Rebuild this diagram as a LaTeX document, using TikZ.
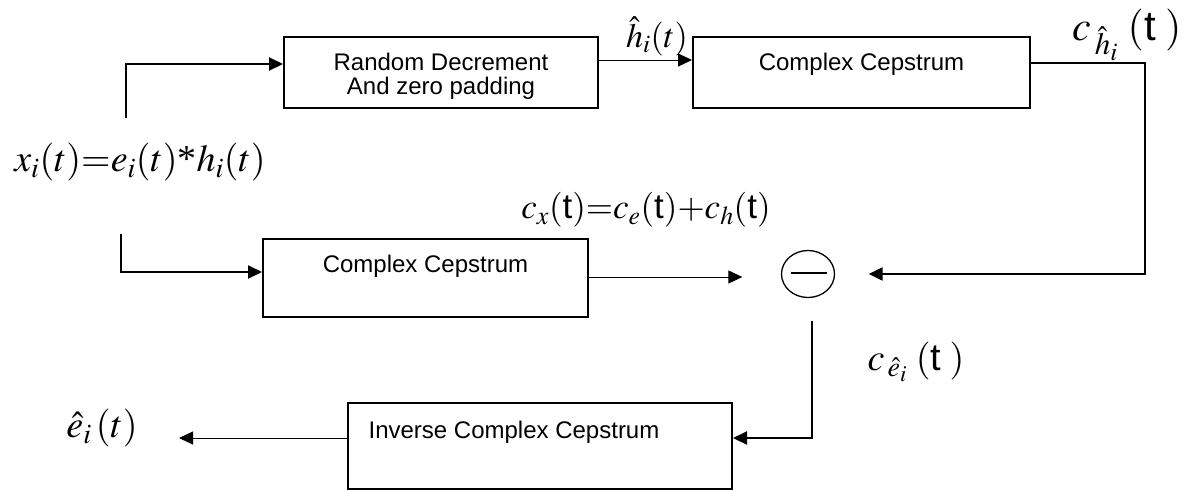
\documentclass[tikz,border=0pt]{standalone}
\usepackage{mathptmx}
\usepackage[no-math]{fontspec}
\setmainfont{Liberation Sans}
\newfontfamily\serifface{Liberation Serif}
\usetikzlibrary{arrows.meta,calc,shapes.geometric}
\begin{document}
\begin{tikzpicture}[x=1pt,y=-1pt]
\tikzset{
  blk/.style={draw, line width=2pt, inner sep=0pt},
  lbl/.style={font=\fontsize{24}{26}\selectfont, inner sep=0pt},
  eq/.style={inner sep=0pt},
  tip/.style={-{Triangle[length=14pt,width=13pt]}},
  heavy/.style={line width=2.2pt, tip},
  light/.style={line width=1pt, tip},
}
\useasboundingbox (0,0) rectangle (1190,491);

% processing blocks
\node[blk, minimum width=314pt, minimum height=71pt] (rd) at (441,72.5) {};
\node[lbl] at (441,62) {Random Decrement};
\node[lbl] at (441,88) {And zero padding};

\node[blk, minimum width=337pt, minimum height=71pt] (cc1) at (861.5,72.5) {};
\node[lbl] at (861.5,64) {Complex Cepstrum};

\node[blk, minimum width=325pt, minimum height=78pt] (cc2) at (425.5,278) {};
\node[lbl] at (425.5,266) {Complex Cepstrum};

\node[blk, minimum width=384pt, minimum height=86pt] (icc) at (540,446) {};
\node[lbl] at (514,432) {Inverse Complex Cepstrum};

% subtractor
\node[draw, ellipse, line width=1.3pt, minimum width=53pt, minimum height=47pt, inner sep=0pt] (sub) at (808,274) {};
\draw[line width=1.3pt] ($(sub.center)+(-17,-1)$) -- ($(sub.center)+(19,-1)$);

% signal labels
\node[eq, font=\fontsize{38}{42}\selectfont] (xeq) at (140,162) {$x_i(t){=}e_i(t)\mbox{\serifface *}h_i(t)$};
\node[eq, font=\fontsize{35}{39}\selectfont] (cxeq) at (646,210) {$c_x(\mbox{t}){=}c_e(\mbox{t}){+}c_h(\mbox{t})$};
\node[eq, font=\fontsize{34}{38}\selectfont] (hlab) at (657,36) {$\hat{h}_i(t)$};
\node[eq, font=\fontsize{42}{46}\selectfont] (chlab) at (1127,35) {$c_{\,\hat{h}_i}\;(\mbox{t}\;)$};
\node[eq, font=\fontsize{38}{42}\selectfont] (celab) at (916,362) {$c_{\,\hat{e}_i}\;(\mbox{t}\;)$};
\node[eq, font=\fontsize{38}{42}\selectfont] (elab) at (102,428) {$\hat{e}_i\,(t)$};

% connectors
\coordinate (in1) at (126,118);
\coordinate (in2) at (121,234);
\coordinate (rc) at (1145,63);
\coordinate (eend) at (179,438);

\draw[heavy] (in1) |- ($(rd.west)+(0,-8.5)$);
\draw[heavy] (in2) |- ($(cc2.west)+(0,-6)$);
\draw[light] ($(rd.east)+(0,-12.5)$) -- ($(cc1.west)+(0,-12.5)$);
\draw[heavy, shorten >=33.5pt] ($(cc1.east)+(0,-9.5)$) -- (rc) |- (sub.east);
\draw[light, shorten >=38.5pt] ($(cc2.east)+(0,-1)$) -- ($(sub.west)+(0,3)$);
\draw[heavy] ($(sub.south)+(4,22.5)$) |- ($(icc.east)+(0,-8)$);
\draw[light] ($(icc.west)+(0,-8)$) -- (eend);
\end{tikzpicture}
\end{document}
